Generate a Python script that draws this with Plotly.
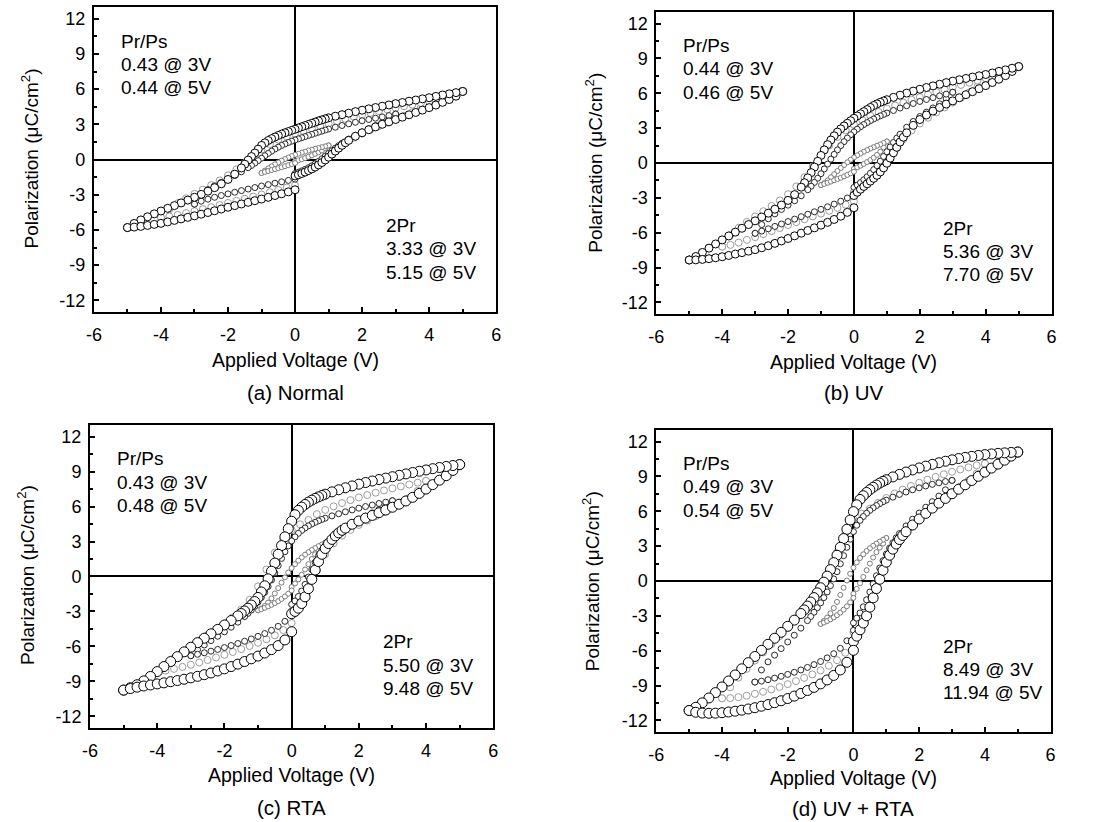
import plotly.graph_objects as go

# ---------------------------------------------------------------------------
# Voltage sweeps (V): UP = 0 -> +Vmax, DOWN = +Vmax -> -Vmax, BACK = -Vmax -> 0
# ---------------------------------------------------------------------------
V5_UP = [0.0, 0.1, 0.2, 0.3, 0.4, 0.5, 0.6, 0.7, 0.8, 0.9, 1.0, 1.1, 1.2, 1.3, 1.4, 1.5, 1.6,
         1.8, 2.0, 2.2, 2.4, 2.6, 2.8, 3.0, 3.2, 3.4, 3.6, 3.8, 4.0, 4.2, 4.4, 4.6, 4.8, 5.0]
V5_DOWN = [5.0, 4.8, 4.6, 4.4, 4.2, 4.0, 3.8, 3.6, 3.4, 3.2, 3.0, 2.8, 2.6, 2.4, 2.2, 2.0, 1.8, 1.6, 1.4, 1.2,
           1.0, 0.9, 0.8, 0.7, 0.6, 0.5, 0.4, 0.3, 0.2, 0.1, 0.0, -0.1, -0.2, -0.3, -0.4, -0.5, -0.6, -0.7,
           -0.8, -0.9, -1.0, -1.1, -1.2, -1.3, -1.4, -1.5, -1.6,
           -1.8, -2.0, -2.2, -2.4, -2.6, -2.8, -3.0, -3.2, -3.4, -3.6, -3.8, -4.0, -4.2, -4.4, -4.6, -4.8, -5.0]
V5_BACK = [-5.0, -4.8, -4.6, -4.4, -4.2, -4.0, -3.8, -3.6, -3.4, -3.2, -3.0, -2.8, -2.6, -2.4, -2.2,
           -2.0, -1.8, -1.6, -1.4, -1.2, -1.0, -0.8, -0.6, -0.4, -0.2, 0.0]

V4_UP = [0.0, 0.25, 0.5, 0.75, 1.0, 1.25, 1.5, 1.75, 2.0, 2.25, 2.5, 2.75, 3.0, 3.25, 3.5, 3.75, 4.0]
V4_DOWN = [4.0, 3.75, 3.5, 3.25, 3.0, 2.75, 2.5, 2.25, 2.0, 1.75, 1.5, 1.25, 1.0, 0.75, 0.5, 0.25, 0.0,
           -0.25, -0.5, -0.75, -1.0, -1.25, -1.5, -1.75, -2.0, -2.25, -2.5, -2.75, -3.0, -3.25, -3.5,
           -3.75, -4.0]
V4_BACK = [-4.0, -3.75, -3.5, -3.25, -3.0, -2.75, -2.5, -2.25, -2.0, -1.75, -1.5, -1.25, -1.0, -0.75,
           -0.5, -0.25, 0.0]

V3_UP = [0.0, 0.1, 0.2, 0.3, 0.4, 0.5, 0.6, 0.7, 0.8, 0.9, 1.0, 1.1, 1.2, 1.3, 1.4,
         1.6, 1.8, 2.0, 2.2, 2.4, 2.6, 2.8, 3.0]
V3_DOWN = [3.0, 2.8, 2.6, 2.4, 2.2, 2.0, 1.8, 1.6, 1.4, 1.2,
           1.0, 0.9, 0.8, 0.7, 0.6, 0.5, 0.4, 0.3, 0.2, 0.1, 0.0, -0.1, -0.2, -0.3, -0.4, -0.5, -0.6,
           -0.7, -0.8, -0.9, -1.0, -1.1, -1.2, -1.3, -1.4,
           -1.6, -1.8, -2.0, -2.2, -2.4, -2.6, -2.8, -3.0]
V3_BACK = [-3.0, -2.8, -2.6, -2.4, -2.2, -2.0, -1.8, -1.6, -1.4, -1.2, -1.0, -0.8, -0.6, -0.4, -0.2, 0.0]

V1_UP = [0.0, 0.1, 0.2, 0.3, 0.4, 0.5, 0.6, 0.7, 0.8, 0.9, 1.0]
V1_DOWN = [1.0, 0.9, 0.8, 0.7, 0.6, 0.5, 0.4, 0.3, 0.2, 0.1, 0.0, -0.1, -0.2, -0.3, -0.4, -0.5, -0.6,
           -0.7, -0.8, -0.9, -1.0]
V1_BACK = [-1.0, -0.9, -0.8, -0.7, -0.6, -0.5, -0.4, -0.3, -0.2, -0.1, 0.0]

# ---------------------------------------------------------------------------
# (a) Normal  -- polarization (uC/cm^2)
# ---------------------------------------------------------------------------
A5_UP = [-1.40, -1.30, -1.19, -1.07, -0.94, -0.80, -0.64, -0.46, -0.26, -0.04, 0.20, 0.46, 0.72, 0.97, 1.21,
         1.43, 1.63, 1.98, 2.28, 2.54, 2.78, 3.00, 3.21, 3.41, 3.61, 3.81, 4.01, 4.21, 4.42, 4.64, 4.87,
         5.11, 5.40, 5.80]
A5_DOWN = [5.80, 5.70, 5.60, 5.50, 5.38, 5.27, 5.17, 5.07, 4.97, 4.86, 4.76, 4.65, 4.54, 4.43, 4.32, 4.20,
           4.08, 3.95, 3.82, 3.69,
           3.55, 3.47, 3.38, 3.29, 3.19, 3.09, 2.99, 2.89, 2.79, 2.69, 2.58, 2.48, 2.38, 2.28, 2.17, 2.05,
           1.92, 1.78, 1.62, 1.42, 1.20, 0.88, 0.55, 0.25, -0.05, -0.40, -0.72,
           -1.25, -1.70, -2.07, -2.40, -2.70, -2.97, -3.22, -3.46, -3.70, -3.93, -4.16, -4.39, -4.63, -4.88,
           -5.15, -5.45, -5.80]
A5_BACK = [-5.80, -5.76, -5.70, -5.62, -5.53, -5.44, -5.32, -5.19, -5.06, -4.93, -4.80, -4.66, -4.52, -4.37,
           -4.22, -4.07, -3.93, -3.79, -3.65, -3.51, -3.37, -3.22, -3.07, -2.92, -2.76, -2.58]
A4_UP = [-1.30, -1.05, -0.72, -0.30, 0.25, 0.85, 1.40, 1.85, 2.22, 2.55, 2.86, 3.15, 3.43, 3.72, 4.02, 4.38, 4.95]
A4_DOWN = [4.95, 4.80, 4.67, 4.54, 4.41, 4.27, 4.12, 3.97, 3.81, 3.64, 3.46, 3.27, 3.07, 2.86, 2.64, 2.42,
           2.20, 1.96, 1.68, 1.32, 0.85, 0.30, -0.30, -0.85, -1.35, -1.78, -2.18, -2.56, -2.93, -3.31,
           -3.72, -4.24, -4.95]
A4_BACK = [-4.95, -4.85, -4.72, -4.56, -4.40, -4.23, -4.06, -3.88, -3.70, -3.52, -3.34, -3.16, -2.98, -2.79,
           -2.59, -2.39, -2.20]
A3_UP = [-1.20, -1.09, -0.97, -0.84, -0.70, -0.54, -0.36, -0.16, 0.06, 0.29, 0.52, 0.75, 0.97, 1.18, 1.38,
         1.74, 2.06, 2.35, 2.62, 2.88, 3.14, 3.44, 3.87]
A3_DOWN = [3.87, 3.74, 3.63, 3.52, 3.41, 3.30, 3.17, 3.04, 2.90, 2.75,
           2.60, 2.51, 2.42, 2.33, 2.24, 2.14, 2.05, 1.95, 1.86, 1.76, 1.67, 1.56, 1.45, 1.33, 1.20, 1.05,
           0.89, 0.71, 0.52, 0.32, 0.11, -0.10, -0.31, -0.51, -0.70,
           -1.05, -1.37, -1.67, -1.95, -2.24, -2.56, -3.10, -3.80]
A3_BACK = [-3.80, -3.55, -3.38, -3.22, -3.07, -2.93, -2.79, -2.65, -2.52, -2.39, -2.26, -2.14, -2.02, -1.90,
           -1.78, -1.67]
A1_UP = [-0.15, -0.07, 0.02, 0.12, 0.23, 0.35, 0.48, 0.62, 0.77, 0.97, 1.20]
A1_DOWN = [1.20, 1.12, 1.05, 0.98, 0.91, 0.84, 0.76, 0.67, 0.58, 0.49, 0.40, 0.29, 0.17, 0.04, -0.10, -0.25,
           -0.41, -0.58, -0.76, -0.95, -1.15]
A1_BACK = [-1.15, -1.06, -0.98, -0.90, -0.82, -0.74, -0.66, -0.57, -0.48, -0.39, -0.30]

# ---------------------------------------------------------------------------
# (b) UV
# ---------------------------------------------------------------------------
B5_UP = [-2.80, -2.52, -2.26, -2.02, -1.79, -1.56, -1.32, -1.06, -0.77, -0.42, -0.02, 0.42, 0.88, 1.35, 1.80,
         2.22, 2.60, 3.24, 3.74, 4.13, 4.47, 4.78, 5.07, 5.35, 5.62, 5.88, 6.14, 6.40, 6.66, 6.93, 7.21,
         7.52, 7.88, 8.30]
B5_DOWN = [8.30, 8.16, 8.02, 7.89, 7.75, 7.62, 7.51, 7.40, 7.28, 7.17, 7.05, 6.92, 6.78, 6.64, 6.50, 6.35,
           6.19, 6.02, 5.84, 5.65,
           5.45, 5.34, 5.22, 5.09, 4.95, 4.78, 4.60, 4.42, 4.24, 4.05, 3.85, 3.64, 3.42, 3.19, 2.94, 2.66,
           2.34, 1.98, 1.58, 1.13, 0.65, 0.15, -0.35, -0.83, -1.28, -1.70, -2.08,
           -2.72, -3.22, -3.62, -3.98, -4.32, -4.65, -4.98, -5.30, -5.62, -5.95, -6.28, -6.62, -6.97, -7.33,
           -7.70, -8.05, -8.35]
B5_BACK = [-8.35, -8.34, -8.30, -8.24, -8.16, -8.07, -7.96, -7.84, -7.72, -7.59, -7.46, -7.30, -7.12, -6.92,
           -6.71, -6.50, -6.27, -6.04, -5.81, -5.58, -5.35, -5.11, -4.86, -4.58, -4.25, -3.85]
B4_UP = [-2.50, -1.95, -1.35, -0.65, 0.20, 1.15, 2.05, 2.80, 3.40, 3.90, 4.35, 4.78, 5.20, 5.62, 6.07, 6.58, 7.30]
B4_DOWN = [7.30, 7.10, 6.91, 6.72, 6.52, 6.32, 6.11, 5.89, 5.67, 5.44, 5.20, 4.95, 4.68, 4.39, 4.07, 3.71,
           3.30, 2.82, 2.24, 1.52, 0.65, -0.30, -1.22, -2.02, -2.68, -3.22, -3.70, -4.15, -4.60, -5.07,
           -5.58, -6.20, -7.20]
B4_BACK = [-7.20, -7.05, -6.85, -6.62, -6.38, -6.12, -5.86, -5.60, -5.34, -5.09, -4.84, -4.60, -4.36, -4.12,
           -3.86, -3.59, -3.30]
B3_UP = [-2.10, -1.90, -1.68, -1.44, -1.18, -0.89, -0.57, -0.22, 0.16, 0.56, 0.97, 1.38, 1.77, 2.14, 2.48,
         3.08, 3.58, 4.00, 4.38, 4.74, 5.10, 5.52, 6.09]
B3_DOWN = [6.09, 5.93, 5.78, 5.63, 5.47, 5.30, 5.12, 4.93, 4.73, 4.52,
           4.30, 4.18, 4.06, 3.93, 3.79, 3.64, 3.48, 3.31, 3.12, 2.91, 2.68, 2.43, 2.15, 1.84, 1.50, 1.13,
           0.74, 0.33, -0.09, -0.51, -0.92, -1.31, -1.67, -2.00, -2.30,
           -2.82, -3.25, -3.63, -4.00, -4.38, -4.80, -5.30, -6.05]
B3_BACK = [-6.05, -5.86, -5.66, -5.46, -5.25, -5.04, -4.83, -4.62, -4.41, -4.20, -3.99, -3.77, -3.54, -3.29,
           -3.01, -2.68]
B1_UP = [-0.50, -0.37, -0.23, -0.08, 0.08, 0.26, 0.46, 0.70, 0.98, 1.35, 1.85]
B1_DOWN = [1.85, 1.72, 1.60, 1.48, 1.36, 1.24, 1.11, 0.97, 0.82, 0.66, 0.48, 0.28, 0.06, -0.18, -0.43, -0.69,
           -0.96, -1.23, -1.50, -1.73, -1.90]
B1_BACK = [-1.90, -1.80, -1.70, -1.60, -1.49, -1.38, -1.27, -1.15, -1.02, -0.89, -0.75]

# ---------------------------------------------------------------------------
# (c) RTA
# ---------------------------------------------------------------------------
C5_UP = [-3.20, -3.00, -2.72, -2.32, -1.75, -1.05, -0.25, 0.55, 1.28, 1.90, 2.40, 2.82, 3.18, 3.48, 3.74,
         3.96, 4.15, 4.48, 4.76, 5.01, 5.24, 5.47, 5.70, 5.94, 6.20, 6.48, 6.79, 7.13, 7.50, 7.88, 8.26,
         8.65, 9.10, 9.60]
C5_DOWN = [9.60, 9.52, 9.44, 9.35, 9.25, 9.14, 9.03, 8.92, 8.80, 8.68, 8.56, 8.44, 8.32, 8.19, 8.06, 7.92,
           7.77, 7.61, 7.44, 7.26,
           7.06, 6.95, 6.83, 6.70, 6.55, 6.38, 6.18, 5.95, 5.67, 5.30, 4.74, 4.10, 3.40, 2.65, 1.90, 1.15,
           0.45, -0.20, -0.80, -1.33, -1.80, -2.15, -2.45, -2.72, -2.96, -3.18, -3.38,
           -3.78, -4.16, -4.54, -4.92, -5.30, -5.68, -6.07, -6.47, -6.88, -7.30, -7.73, -8.16, -8.58, -8.96,
           -9.29, -9.55, -9.75]
C5_BACK = [-9.75, -9.62, -9.50, -9.40, -9.31, -9.22, -9.13, -9.03, -8.93, -8.82, -8.70, -8.57, -8.43, -8.28,
           -8.11, -7.93, -7.73, -7.52, -7.30, -7.07, -6.83, -6.57, -6.28, -5.93, -5.45, -4.74]
C4_UP = [-3.00, -2.30, -1.10, 0.50, 1.90, 2.85, 3.50, 4.00, 4.42, 4.80, 5.16, 5.52, 5.90, 6.30, 6.75, 7.35, 8.20]
C4_DOWN = [8.20, 8.05, 7.89, 7.73, 7.56, 7.38, 7.19, 6.99, 6.78, 6.55, 6.30, 6.02, 5.71, 5.35, 4.85, 4.48,
           4.00, 3.20, 2.05, 0.60, -0.85, -2.00, -2.85, -3.50, -4.05, -4.55, -5.03, -5.50, -5.98, -6.48,
           -7.00, -7.58, -8.20]
C4_BACK = [-8.20, -8.08, -7.93, -7.76, -7.58, -7.38, -7.17, -6.95, -6.72, -6.48, -6.23, -5.97, -5.69, -5.39,
           -5.05, -4.60, -4.00]
C3_UP = [-2.40, -2.10, -1.72, -1.25, -0.68, -0.05, 0.60, 1.22, 1.78, 2.25, 2.66, 3.00, 3.30, 3.56, 3.79,
         4.19, 4.54, 4.86, 5.16, 5.45, 5.74, 6.06, 6.50]
C3_DOWN = [6.50, 6.38, 6.26, 6.13, 6.00, 5.86, 5.71, 5.55, 5.38, 5.20,
           5.00, 4.89, 4.77, 4.64, 4.50, 4.34, 4.16, 3.95, 3.70, 3.40, 3.05, 2.62, 2.12, 1.55, 0.93, 0.30,
           -0.30, -0.86, -1.36, -1.80, -2.20, -2.56, -2.88, -3.17, -3.44,
           -3.92, -4.35, -4.75, -5.13, -5.50, -5.88, -6.28, -6.80]
C3_BACK = [-6.80, -6.68, -6.55, -6.41, -6.26, -6.10, -5.93, -5.75, -5.56, -5.36, -5.14, -4.90, -4.62, -4.28,
           -3.85, -3.30]
C1_UP = [-0.90, -0.60, -0.25, 0.15, 0.60, 1.06, 1.50, 1.90, 2.25, 2.58, 2.90]
C1_DOWN = [2.90, 2.75, 2.60, 2.44, 2.27, 2.08, 1.87, 1.63, 1.36, 1.06, 0.72, 0.34, -0.08, -0.53, -1.00, -1.46,
           -1.88, -2.24, -2.53, -2.75, -2.90]
C1_BACK = [-2.90, -2.80, -2.69, -2.57, -2.44, -2.29, -2.12, -1.93, -1.72, -1.48, -1.20]

# ---------------------------------------------------------------------------
# (d) UV + RTA
# ---------------------------------------------------------------------------
D5_UP = [-5.20, -4.75, -4.20, -3.62, -3.00, -2.25, -1.45, -0.65, 0.15, 0.92, 1.62, 2.22, 2.74, 3.18, 3.57,
         3.92, 4.24, 4.82, 5.34, 5.82, 6.27, 6.70, 7.11, 7.51, 7.90, 8.28, 8.65, 9.01, 9.37, 9.72, 10.06,
         10.40, 10.75, 11.10]
D5_DOWN = [11.10, 11.07, 11.03, 10.99, 10.94, 10.88, 10.81, 10.73, 10.64, 10.54, 10.43, 10.31, 10.18, 10.04,
           9.89, 9.73, 9.56, 9.38, 9.18, 8.96,
           8.72, 8.58, 8.43, 8.26, 8.07, 7.86, 7.62, 7.34, 7.02, 6.56, 5.97, 5.25, 4.45, 3.65, 2.90, 2.22,
           1.58, 0.98, 0.42, -0.10, -0.58, -1.02, -1.43, -1.81, -2.16, -2.49, -2.80,
           -3.37, -3.90, -4.42, -4.93, -5.45, -5.97, -6.50, -7.03, -7.56, -8.09, -8.61, -9.12, -9.61, -10.07,
           -10.49, -10.87, -11.15]
D5_BACK = [-11.15, -11.30, -11.37, -11.39, -11.38, -11.34, -11.28, -11.21, -11.12, -11.02, -10.91, -10.78,
           -10.64, -10.48, -10.31, -10.12, -9.91, -9.68, -9.43, -9.16, -8.86, -8.52, -8.13, -7.66, -7.00,
           -5.97]
D4_UP = [-4.40, -3.20, -1.55, 0.20, 1.70, 2.90, 3.85, 4.65, 5.35, 5.98, 6.55, 7.10, 7.62, 8.13, 8.65, 9.25, 10.10]
D4_DOWN = [10.10, 9.95, 9.78, 9.60, 9.40, 9.19, 8.96, 8.72, 8.46, 8.18, 7.87, 7.53, 7.15, 6.72, 6.23, 5.80,
           5.30, 4.05, 2.45, 0.95, -0.35, -1.45, -2.40, -3.25, -4.02, -4.75, -5.45, -6.15, -6.85, -7.57,
           -8.32, -9.15, -10.10]
D4_BACK = [-10.10, -10.08, -10.00, -9.88, -9.72, -9.54, -9.34, -9.12, -8.88, -8.62, -8.34, -8.04, -7.70,
           -7.30, -6.82, -6.18, -5.30]
D3_UP = [-3.60, -3.20, -2.75, -2.22, -1.62, -0.95, -0.25, 0.45, 1.12, 1.75, 2.32, 2.84, 3.30, 3.71, 4.08,
         4.74, 5.32, 5.85, 6.35, 6.83, 7.31, 7.85, 8.66]
D3_DOWN = [8.66, 8.56, 8.45, 8.32, 8.18, 8.02, 7.85, 7.66, 7.45, 7.22,
           6.96, 6.82, 6.66, 6.49, 6.30, 6.08, 5.83, 5.55, 5.22, 4.80, 4.25, 3.60, 2.90, 2.18, 1.48, 0.80,
           0.18, -0.40, -0.94, -1.43, -1.88, -2.30, -2.69, -3.06, -3.41,
           -4.06, -4.67, -5.25, -5.82, -6.38, -6.96, -7.66, -8.70]
D3_BACK = [-8.70, -8.62, -8.50, -8.36, -8.21, -8.04, -7.86, -7.66, -7.44, -7.20, -6.93, -6.62, -6.26, -5.80,
           -5.15, -4.25]
D1_UP = [-1.10, -0.68, -0.20, 0.35, 0.93, 1.50, 2.02, 2.48, 2.87, 3.22, 3.70]
D1_DOWN = [3.70, 3.55, 3.39, 3.22, 3.03, 2.82, 2.58, 2.30, 1.98, 1.60, 1.15, 0.62, 0.04, -0.58, -1.20, -1.80,
           -2.33, -2.78, -3.15, -3.45, -3.70]
D1_BACK = [-3.70, -3.58, -3.45, -3.30, -3.13, -2.94, -2.72, -2.47, -2.18, -1.84, -1.45]

# Labels
PANEL_TITLES = ["(a) Normal", "(b) UV", "(c) RTA", "(d) UV + RTA"]
RATIO_3V = ["0.43", "0.44", "0.43", "0.49"]
RATIO_5V = ["0.44", "0.46", "0.48", "0.54"]
TWO_PR_3V = ["3.33", "5.36", "5.50", "8.49"]
TWO_PR_5V = ["5.15", "7.70", "9.48", "11.94"]
X_TITLE = "Applied Voltage (V)"
Y_TITLE = "Polarization (\u03bcC/cm<sup>2</sup>)"
X_TICKS = [-6, -4, -2, 0, 2, 4, 6]
X_TICK_TEXT = ["-6", "-4", "-2", "0", "2", "4", "6"]
Y_TICKS = [-12, -9, -6, -3, 0, 3, 6, 9, 12]
Y_TICK_TEXT = ["-12", "-9", "-6", "-3", "0", "3", "6", "9", "12"]

FONT = "Liberation Sans, Arial, sans-serif"

SWEEPS = {5: (V5_UP, V5_DOWN, V5_BACK), 4: (V4_UP, V4_DOWN, V4_BACK),
          3: (V3_UP, V3_DOWN, V3_BACK), 1: (V1_UP, V1_DOWN, V1_BACK)}

PANELS = [
    {5: (A5_UP, A5_DOWN, A5_BACK), 4: (A4_UP, A4_DOWN, A4_BACK), 3: (A3_UP, A3_DOWN, A3_BACK), 1: (A1_UP, A1_DOWN, A1_BACK)},
    {5: (B5_UP, B5_DOWN, B5_BACK), 4: (B4_UP, B4_DOWN, B4_BACK), 3: (B3_UP, B3_DOWN, B3_BACK), 1: (B1_UP, B1_DOWN, B1_BACK)},
    {5: (C5_UP, C5_DOWN, C5_BACK), 4: (C4_UP, C4_DOWN, C4_BACK), 3: (C3_UP, C3_DOWN, C3_BACK), 1: (C1_UP, C1_DOWN, C1_BACK)},
    {5: (D5_UP, D5_DOWN, D5_BACK), 4: (D4_UP, D4_DOWN, D4_BACK), 3: (D3_UP, D3_DOWN, D3_BACK), 1: (D1_UP, D1_DOWN, D1_BACK)},
]

# marker size of the outer (5 V) loop per panel
OUTER_SIZE = [8, 8, 10, 10]

# plot-area placement of each panel (paper fractions)
X_DOMAINS = [[0.0789, 0.4483], [0.5953, 0.9583], [0.0753, 0.4456], [0.5953, 0.9574]]
Y_DOMAINS = [[0.6204, 0.9915], [0.6180, 0.9854], [0.1144, 0.4830], [0.1095, 0.4769]]
# centre of x title, caption (y only) and y title (x, y), paper fractions
XTITLE_POS = [(0.2636, 0.562), (0.7768, 0.560), (0.2604, 0.057), (0.7763, 0.054)]
CAPTION_Y = [0.522, 0.522, 0.018, 0.017]
YTITLE_POS = [(0.020, 0.807), (0.538, 0.802), (0.0165, 0.3005), (0.5355, 0.2932)]


def loop_style(amp, panel):
    if amp == 5:
        return dict(size=OUTER_SIZE[panel], color="white", line=dict(color="black", width=1))
    if amp == 4:
        return dict(size=7, color="white", line=dict(color="#9c9c9c", width=1))
    if amp == 3:
        return dict(size=6, color="white", line=dict(color="#2a2a2a", width=1))
    return dict(size=5, color="white", line=dict(color="#7c7c7c", width=1))


fig = go.Figure()

for i, loops in enumerate(PANELS):
    ax = "" if i == 0 else str(i + 1)
    for amp in (1, 4, 3, 5):
        vs = SWEEPS[amp]
        ps = loops[amp]
        xs, ys = [], []
        for v_seg, p_seg in zip(vs, ps):
            assert len(v_seg) == len(p_seg), (i, amp, len(v_seg), len(p_seg))
            xs += v_seg
            ys += p_seg
        fig.add_trace(go.Scatter(
            x=xs, y=ys, mode="markers", xaxis="x" + ax, yaxis="y" + ax,
            marker=dict(symbol="circle", **loop_style(amp, i)),
            showlegend=False, hoverinfo="skip"))

axis_common = dict(
    showline=True, linewidth=2, linecolor="black", mirror=True,
    showgrid=False, zeroline=True, zerolinewidth=2, zerolinecolor="black",
    ticks="inside", ticklen=5, tickwidth=1.5, tickcolor="black",
    tickfont=dict(family=FONT, size=18, color="black"),
)

layout = dict(
    width=1102, height=822, margin=dict(l=0, r=0, t=0, b=0),
    paper_bgcolor="white", plot_bgcolor="white",
    font=dict(family=FONT, size=18, color="black"),
    annotations=[],
)

for i in range(4):
    sfx = "" if i == 0 else str(i + 1)
    layout["xaxis" + sfx] = dict(
        axis_common, domain=X_DOMAINS[i], anchor="y" + sfx, range=[-6, 6],
        tickmode="array", tickvals=X_TICKS, ticktext=X_TICK_TEXT, ticklabelstandoff=5,
        minor=dict(ticks="inside", dtick=1, tick0=-6, ticklen=3, tickwidth=1.5, tickcolor="black"),
    )
    layout["yaxis" + sfx] = dict(
        axis_common, domain=Y_DOMAINS[i], anchor="x" + sfx, range=[-13, 13],
        tickmode="array", tickvals=Y_TICKS, ticktext=Y_TICK_TEXT, ticklabelstandoff=3,
        minor=dict(ticks="inside", dtick=1.5, tick0=0, ticklen=3, tickwidth=1.5, tickcolor="black"),
    )
    xr, yr = "x" + sfx, "y" + sfx
    left_lines = ["Pr/Ps", RATIO_3V[i] + " @ 3V", RATIO_5V[i] + " @ 5V"]
    right_lines = ["2Pr", TWO_PR_3V[i] + " @ 3V", TWO_PR_5V[i] + " @ 5V"]
    for k, (yl, yr_) in enumerate(zip([10.1, 8.1, 6.1], [-5.6, -7.6, -9.6])):
        layout["annotations"].append(dict(
            text=left_lines[k], x=-5.25, y=yl, xref=xr, yref=yr, xanchor="left", yanchor="middle",
            showarrow=False, font=dict(family=FONT, size=19, color="black")))
        layout["annotations"].append(dict(
            text=right_lines[k], x=2.65, y=yr_, xref=xr, yref=yr, xanchor="left", yanchor="middle",
            showarrow=False, font=dict(family=FONT, size=19, color="black")))
    tx, ty = XTITLE_POS[i]
    layout["annotations"].append(dict(
        text=X_TITLE, x=tx, y=ty, xref="paper", yref="paper", xanchor="center", yanchor="middle",
        showarrow=False, font=dict(family=FONT, size=19.5, color="black")))
    layout["annotations"].append(dict(
        text=PANEL_TITLES[i], x=tx, y=CAPTION_Y[i], xref="paper", yref="paper", xanchor="center",
        yanchor="middle", showarrow=False, font=dict(family=FONT, size=20.5, color="black")))
    yx, yy = YTITLE_POS[i]
    layout["annotations"].append(dict(
        text=Y_TITLE, x=yx, y=yy, xref="paper", yref="paper", xanchor="center", yanchor="middle",
        textangle=-90, showarrow=False, font=dict(family=FONT, size=19, color="black")))

fig.update_layout(layout)
fig.write_html("out.html")
